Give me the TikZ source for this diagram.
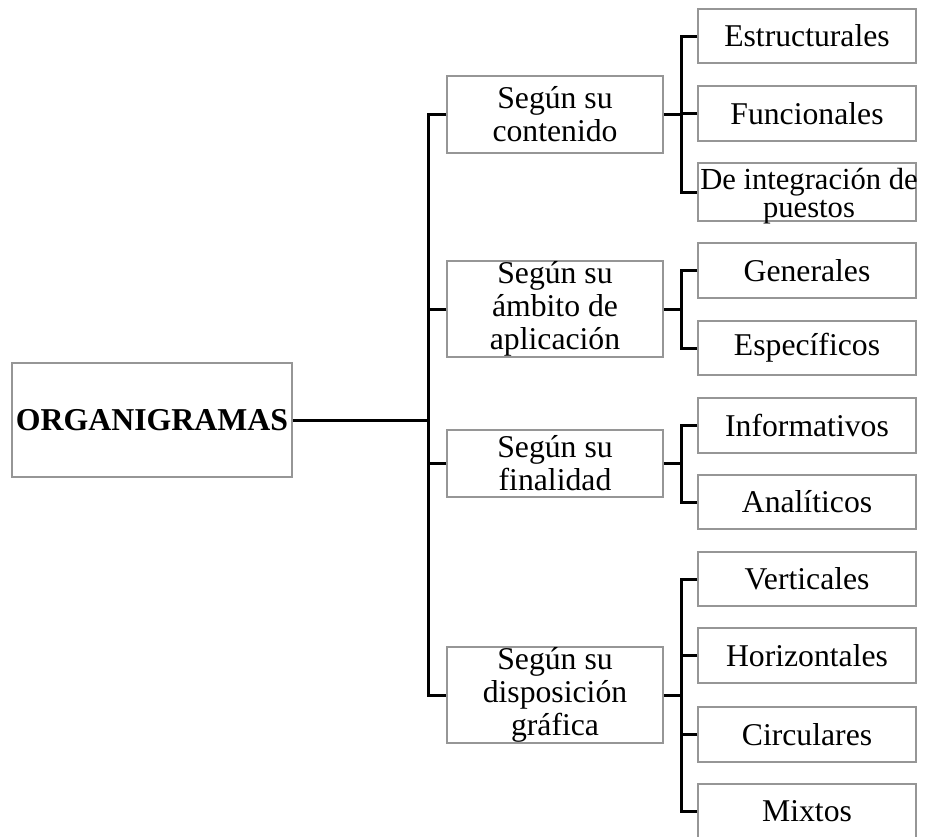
\documentclass[tikz,border=0pt]{standalone}
\usepackage{fontspec}
\setmainfont{Liberation Serif}
\begin{document}
\begin{tikzpicture}[x=0.5pt,y=-0.5pt,
  box/.style={draw={rgb,255:red,150;green,150;blue,150}, line width=0.75pt,
    inner sep=0pt, align=center, font=\fontsize{15.85}{16.5}\selectfont},
  lvlone/.style={box, minimum width=108pt},
  lvltwo/.style={box, minimum width=109pt},
  conn/.style={draw=black, line width=1.5pt}]
\useasboundingbox (0,0) rectangle (925,836);

% root
\node[box, minimum width=140pt, minimum height=57pt, font=\bfseries\fontsize{15.9}{16.5}\selectfont]
  (root) at (152,420) {ORGANIGRAMAS};

% first level
\node[lvlone, minimum height=38.5pt] (c1) at (555,114.5) {Según su\\contenido};
\node[lvlone, minimum height=48pt]   (c2) at (555,309)   {Según su\\ámbito de\\aplicación};
\node[lvlone, minimum height=33.5pt] (c3) at (555,463.5) {Según su\\finalidad};
\node[lvlone, minimum height=48pt]   (c4) at (555,695)   {Según su\\disposición\\gráfica};

% second level
\node[lvltwo, minimum height=27pt]   (e1) at (807,36)    {Estructurales};
\node[lvltwo, minimum height=27.5pt] (e2) at (807,113.5) {Funcionales};
\node[lvltwo, minimum height=29pt]   (e3) at (807,192)   {};
\node[align=center, font=\fontsize{15.3}{14}\selectfont, inner sep=0pt]
  (e3t) at (809,196) {De integración de\\puestos};
\node[lvltwo, minimum height=27.5pt] (a1) at (807,270.5) {Generales};
\node[lvltwo, minimum height=27pt]   (a2) at (807,348)   {Específicos};
\node[lvltwo, minimum height=27.5pt] (f1) at (807,425.5) {Informativos};
\node[lvltwo, minimum height=27pt]   (f2) at (807,502)   {Analíticos};
\node[lvltwo, minimum height=27pt]   (d1) at (807,579)   {Verticales};
\node[lvltwo, minimum height=27.5pt] (d2) at (807,655.5) {Horizontales};
\node[lvltwo, minimum height=27.5pt] (d3) at (807,734.5) {Circulares};
\node[lvltwo, minimum height=27.5pt] (d4) at (807,811.5) {Mixtos};

% bus lines
\coordinate (trunk) at (428,0);
\coordinate (bus) at (681,0);

% root to first level
\draw[conn] (root.east) -- (root.east -| trunk);
\draw[conn] (c1.west) -- (c1.west -| trunk) -- (c4.west -| trunk) -- (c4.west);
\draw[conn] (c2.west) -- (c2.west -| trunk);
\draw[conn] (c3.west) -- (c3.west -| trunk);

% first level to second level
\draw[conn] (c1.east) -- (c1.east -| bus);
\draw[conn] (e1.west) -- (e1.west -| bus) |- (e3.west);
\draw[conn] (e2.west) -- (e2.west -| bus);

\draw[conn] (c2.east) -- (c2.east -| bus);
\draw[conn] (a1.west) -- (a1.west -| bus) |- (a2.west);

\draw[conn] (c3.east) -- (c3.east -| bus);
\draw[conn] (f1.west) -- (f1.west -| bus) |- (f2.west);

\draw[conn] (c4.east) -- (c4.east -| bus);
\draw[conn] (d1.west) -- (d1.west -| bus) |- (d4.west);
\draw[conn] (d2.west) -- (d2.west -| bus);
\draw[conn] (d3.west) -- (d3.west -| bus);
\end{tikzpicture}
\end{document}
